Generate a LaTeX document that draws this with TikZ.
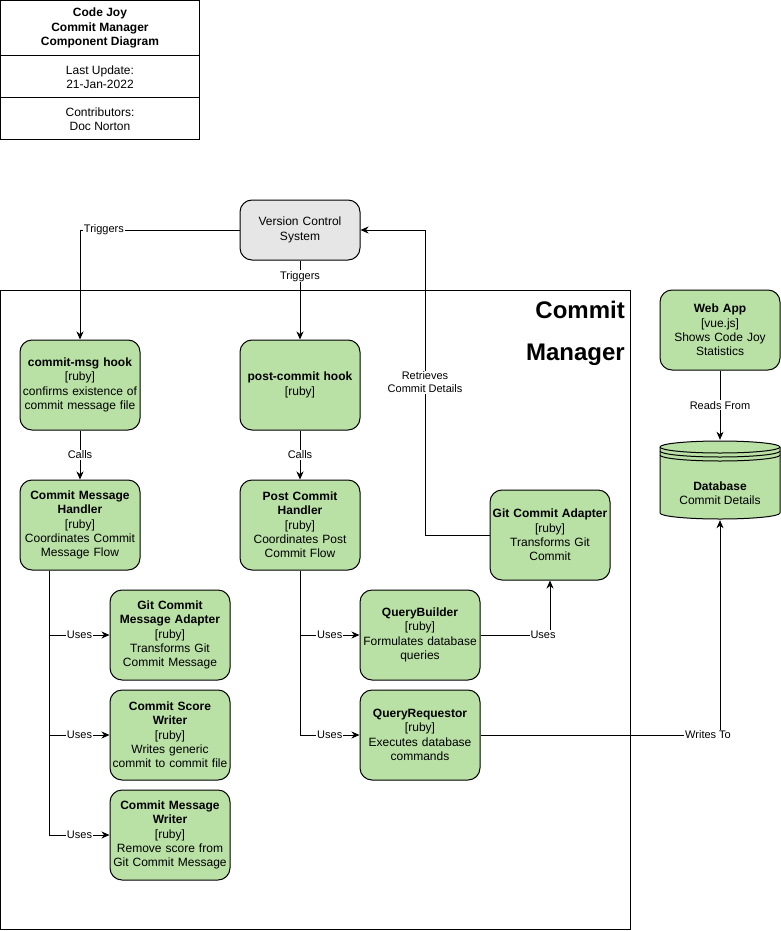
\documentclass[tikz,border=0pt]{standalone}
\usepackage{fontspec}
\setmainfont{Liberation Sans}
\usetikzlibrary{arrows.meta,calc}
\definecolor{boxgreen}{HTML}{B9E0A5}
\definecolor{vcsgray}{HTML}{E6E6E6}
\begin{document}
\begin{tikzpicture}[x=1pt,y=-1pt,
  comp/.style={draw=black,line width=1pt,fill=boxgreen,rounded corners=12pt,
    minimum width=120pt,minimum height=90pt,text width=116pt,inner sep=2pt,
    align=center,font=\fontsize{12}{14.3}\selectfont},
  conn/.style={draw=black,line width=1pt,-{Stealth[length=8pt,width=7pt,inset=2.5pt]}},
  plain/.style={draw=black,line width=1pt},
  lbl/.style={fill=white,inner sep=1pt,font=\fontsize{11}{13}\selectfont,align=center},
  ttl/.style={align=center,font=\fontsize{12}{14.3}\selectfont,inner sep=0pt}]
\useasboundingbox (0,0) rectangle (781,931);
\fill[white] (0,0) rectangle (781,931);

% title box
\draw[plain] (0.5,0.5) rectangle (199.5,139.5);
\draw[plain] (0.5,56) -- (199.5,56);
\draw[plain] (0.5,98) -- (199.5,98);
\node[ttl,font=\bfseries\fontsize{12}{14.3}\selectfont] (t1) at (100,28) {Code Joy\\Commit Manager\\Component Diagram};
\node[ttl] (t2) at (100,77) {Last Update:\\21-Jan-2022};
\node[ttl] (t3) at (100,119) {Contributors:\\Doc Norton};

% container
\draw[plain] (0.5,290.5) rectangle (630.5,929.5);
\node[anchor=east,inner sep=0pt,font=\bfseries\fontsize{24}{28}\selectfont] (cm1) at (625,310) {Commit};
\node[anchor=east,inner sep=0pt,font=\bfseries\fontsize{24}{28}\selectfont] (cm2) at (625,355) {Manager};

% nodes
\node[comp,fill=vcsgray,minimum height=60pt] (vcs) at (300,230) {Version Control\\System};
\node[comp] (cmh) at (80,385) {\textbf{commit-msg hook}\\{}[ruby]\\confirms existence of\\commit message file};
\node[comp] (pch) at (300,385) {\textbf{post-commit hook}\\{}[ruby]};
\node[comp] (cmhand) at (80,525) {\textbf{Commit Message}\\\textbf{Handler}\\{}[ruby]\\Coordinates Commit\\Message Flow};
\node[comp] (pchand) at (300,525) {\textbf{Post Commit}\\\textbf{Handler}\\{}[ruby]\\Coordinates Post\\Commit Flow};
\node[comp] (gca) at (550,535) {\textbf{Git Commit Adapter}\\{}[ruby]\\Transforms Git\\Commit};
\node[comp] (gcma) at (170,635) {\textbf{Git Commit}\\\textbf{Message Adapter}\\{}[ruby]\\Transforms Git\\Commit Message};
\node[comp] (csw) at (170,735) {\textbf{Commit Score}\\\textbf{Writer}\\{}[ruby]\\Writes generic\\commit to commit file};
\node[comp] (cmw) at (170,835) {\textbf{Commit Message}\\\textbf{Writer}\\{}[ruby]\\Remove score from\\Git Commit Message};
\node[comp] (qb) at (420,635) {\textbf{QueryBuilder}\\{}[ruby]\\Formulates database\\queries};
\node[comp] (qr) at (420,735) {\textbf{QueryRequestor}\\{}[ruby]\\Executes database\\commands};
\node[comp,minimum height=80pt] (web) at (720,330) {\textbf{Web App}\\{}[vue.js]\\Shows Code Joy\\Statistics};

% database cylinder
\node[minimum width=120pt,minimum height=80pt,inner sep=0pt] (db) at (720,480) {};
\filldraw[line width=1pt,fill=boxgreen] (660,447) -- (660,513)
  arc[start angle=180,end angle=360,x radius=60pt,y radius=6pt] -- (780,447)
  arc[start angle=0,end angle=180,x radius=60pt,y radius=6pt] -- cycle;
\draw[line width=1pt] (660,447) arc[start angle=180,end angle=360,x radius=60pt,y radius=6pt];
\draw[line width=1pt] (660,451) arc[start angle=180,end angle=360,x radius=60pt,y radius=6pt];
\draw[line width=1pt] (660,455) arc[start angle=180,end angle=360,x radius=60pt,y radius=6pt];
\node[ttl] (dbtext) at (720,493.5) {\textbf{Database}\\Commit Details};

% connectors
\draw[conn] (vcs.west) -| node[lbl,pos=0.425] {Triggers} (cmh.north);
\draw[conn] (vcs.south) -- node[lbl,pos=0.2] {Triggers} (pch.north);
\draw[conn] (gca.west) -- (425,535) |- node[lbl,pos=0.25] {Retrieves\\Commit Details} (vcs.east);
\draw[conn] (cmh.south) -- node[lbl] {Calls} (cmhand.north);
\draw[conn] (pch.south) -- node[lbl] {Calls} (pchand.north);
\coordinate (cmhb) at ($(cmhand.south west)+(30,0)$);
\draw[conn] (cmhb) |- node[lbl,pos=0.75] {Uses} (gcma.west);
\draw[conn] (cmhb) |- node[lbl,pos=0.75] {Uses} (csw.west);
\draw[conn] (cmhb) |- node[lbl,pos=0.75] {Uses} (cmw.west);
\draw[conn] (pchand.south) |- node[lbl,pos=0.75] {Uses} (qb.west);
\draw[conn] (pchand.south) |- node[lbl,pos=0.75] {Uses} (qr.west);
\draw[conn] (qb.east) -| node[lbl,pos=0.45] {Uses} (gca.south);
\draw[conn] (qr.east) -| node[lbl,pos=0.475] {Writes To} (db.south);
\draw[conn] (web.south) -- node[lbl] {Reads From} (db.north);
\end{tikzpicture}
\end{document}
